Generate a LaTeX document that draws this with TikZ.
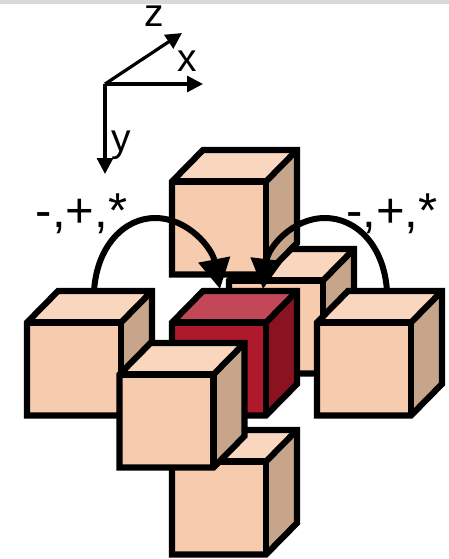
\documentclass[tikz,border=0pt]{standalone}
\usepackage{fontspec}
\setmainfont{Liberation Sans}
\usetikzlibrary{arrows.meta}
\definecolor{pf}{HTML}{F7CBAD}
\definecolor{pt}{HTML}{F9D6BE}
\definecolor{ps}{HTML}{C6A58B}
\definecolor{rf}{HTML}{AE1A2B}
\definecolor{rt}{HTML}{C24757}
\definecolor{rs}{HTML}{8B1220}
\definecolor{bar}{HTML}{D9D9D9}
\tikzset{
  cubeline/.style={draw=black,line width=6.2pt,line join=miter,miter limit=10},
  axisline/.style={draw=black,line width=3.2pt,-{Triangle[length=16pt,width=16pt]}},
  arcline/.style={draw=black,line width=6pt,-{Triangle[length=30pt,width=31pt]}},
  axislabel/.style={inner sep=0pt,font=\fontsize{39}{39}\selectfont},
  oplabel/.style={inner sep=0pt,font=\fontsize{49}{49}\selectfont},
}
% #1 left, #2 top, #3 front, #4 top face, #5 side
\newcommand{\cubeat}[5]{%
  \fill[#4] (#1,#2) -- ++(31,-31.5) -- ++(94,0) -- ++(-31,31.5) -- cycle;
  \fill[#5] (#1+94,#2) -- ++(31,-31.5) -- ++(0,93) -- ++(-31,31.5) -- cycle;
  \fill[#3] (#1,#2) rectangle ++(94,93);
  \path[cubeline] (#1,#2) -- ++(31,-31.5) -- ++(94,0) -- ++(0,93) -- ++(-31,31.5) -- ++(-94,0) -- cycle;
  \path[cubeline] (#1,#2) -- ++(94,0) -- ++(0,93);
  \path[cubeline] (#1+94,#2) -- ++(31,-31.5);
}
\begin{document}
\begin{tikzpicture}[x=1pt,y=-1pt]
\useasboundingbox (0,0) rectangle (449,559);
\fill[bar] (0,0) rectangle (449,4.5);
% axes
\coordinate (o) at (105,84);
\coordinate (ax) at (203,84);
\coordinate (ay) at (105,174);
\coordinate (az) at (182,33);
\draw[axisline] (o) -- (ax);
\draw[axisline] (o) -- (ay);
\draw[axisline] (o) -- (az);
\node[axislabel] (lz) at (154,16) {z};
\node[axislabel] (lx) at (187,61) {x};
\node[axislabel] (ly) at (121,145) {y};
\node[oplabel] (ol) at (81.5,214) {-,+,*};
\node[oplabel] (or) at (392,214) {-,+,*};
% cubes
\cubeat{229}{280.5}{pf}{pt}{ps}
\cubeat{172}{181.5}{pf}{pt}{ps}
\coordinate (a1) at (94,291);
\coordinate (a2) at (220,289);
\coordinate (b1) at (387,291);
\coordinate (b2) at (263,289);
\draw[arcline] (a1) .. controls (97,245) and (125,218) .. (155,218) .. controls (188,218) and (212,248) .. (a2);
\draw[arcline] (b1) .. controls (384,245) and (356,218) .. (325,218) .. controls (292,218) and (268,248) .. (b2);
\cubeat{27}{322.5}{pf}{pt}{ps}
\cubeat{172}{322.5}{rf}{rt}{rs}
\cubeat{317}{322.5}{pf}{pt}{ps}
\cubeat{172}{461.5}{pf}{pt}{ps}
\cubeat{119.5}{374.5}{pf}{pt}{ps}
\end{tikzpicture}
\end{document}
